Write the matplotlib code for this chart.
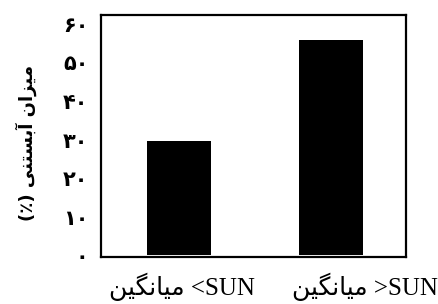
import numpy as np
import matplotlib
matplotlib.use('Agg')
import matplotlib.pyplot as plt

# Persian text in visual (left-to-right) order, using presentation forms,
# because matplotlib does no Arabic shaping.
mean_word = '\uFEE6\uFEF4\uFB95\uFEE7\uFE8E\uFEF4\uFEE3'          # میانگین
ylabel_text = '(\u066A) ' + '\uFEF0\uFEE8\uFE98\uFEB4\uFE91\uFE81' + ' ' + '\uFEE5\uFE8D\uFEB0\uFEF4\uFEE3'  # میزان آبستنی (٪)

categories = [mean_word + ' <SUN', mean_word + ' >SUN']
values = [29.6, 55.7]
yticks = [0, 10, 20, 30, 40, 50, 60]

persian_digits = str.maketrans('0123456789', '\u06F0\u06F1\u06F2\u06F3\u06F4\u06F5\u06F6\u06F7\u06F8\u06F9')
ytick_labels = [str(t).translate(persian_digits) for t in yticks]

fig = plt.figure(figsize=(4.39, 3.04), dpi=100)
ax = fig.add_axes([0.230, 0.155, 0.695, 0.796])

x = np.arange(len(values))
ax.bar(x, values, width=0.42, color='black')

ax.set_xlim(-0.51, 1.49)
ax.set_ylim(-0.4, 62.3)
ax.set_yticks(yticks)
ax.set_yticklabels(ytick_labels, family='DejaVu Sans', fontsize=15, fontweight='bold')
ax.set_xticks([])
ax.tick_params(axis='y', length=0, pad=9)

for s in ax.spines.values():
    s.set_linewidth(1.6)

# x labels sit below the bars (right one shifted as in the source)
label_pos = [0.02, 1.22]
for p, lab in zip(label_pos, categories):
    ax.text(p, -0.065, lab, transform=ax.get_xaxis_transform(), ha='center', va='top',
            family=['Liberation Serif', 'DejaVu Sans'], fontsize=18)

fig.text(0.06, 0.53, ylabel_text, rotation=90, ha='center', va='center',
         family='DejaVu Sans', fontsize=13, fontweight='bold')

fig.savefig('out.png', dpi=100)
